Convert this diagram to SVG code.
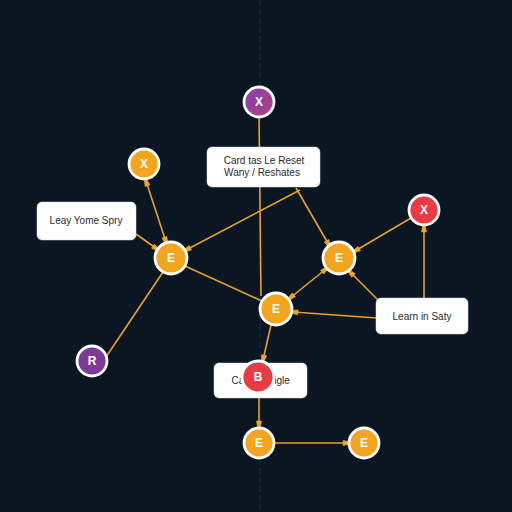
<svg xmlns="http://www.w3.org/2000/svg" width="512" height="512" viewBox="0 0 512 512">
<defs>
<marker id="ah" viewBox="0 0 10 10" refX="8" refY="5" markerWidth="7" markerHeight="7" orient="auto-start-reverse" markerUnits="userSpaceOnUse">
<path d="M1,1.5 L9,3 L9,7 L1,8.5 Z" fill="#f0a526" stroke="#f0a526" stroke-width="1" stroke-linejoin="round"/>
</marker>
<radialGradient id="pg" cx="0.35" cy="0.35" r="0.8">
<stop offset="0" stop-color="#8a3fa8"/>
<stop offset="1" stop-color="#b0407e"/>
</radialGradient>
<style>
.c{stroke:#e8a028;stroke-width:1.6;fill:none}
.n{stroke:#fff;stroke-width:2.8}
.o{fill:#f4a51f}
.r{fill:#e93b43}
.p{fill:#7d3a99}
.lt{font-family:"Liberation Sans",Arial,sans-serif;font-weight:bold;font-size:12px;fill:#fff;text-anchor:middle;dominant-baseline:central}
.bx{fill:#fff;stroke:#dde;stroke-width:0.5}
.bt{font-family:"Liberation Sans",Arial,sans-serif;font-size:10px;fill:#2a2a2a;text-anchor:middle}
</style>
</defs>
<rect width="512" height="512" fill="#0a1622"/>
<line x1="260" y1="0" x2="260" y2="512" stroke="#1e2e3e" stroke-width="1" stroke-dasharray="6 3"/>
<g id="connectors">
<line class="c" x1="259" y1="117" x2="261" y2="296"/>
<line class="c" x1="300" y1="190" x2="186" y2="250" marker-end="url(#ah)"/>
<line class="c" x1="296" y1="188" x2="329" y2="245" marker-end="url(#ah)"/>
<line class="c" x1="146" y1="181" x2="166" y2="242" marker-start="url(#ah)" marker-end="url(#ah)"/>
<line class="c" x1="136" y1="234" x2="157" y2="249" marker-end="url(#ah)"/>
<line class="c" x1="185" y1="266" x2="262" y2="301"/>
<line class="c" x1="163" y1="272" x2="106" y2="357"/>
<line class="c" x1="411" y1="218" x2="355" y2="251" marker-end="url(#ah)"/>
<line class="c" x1="424" y1="298" x2="424" y2="227" marker-end="url(#ah)"/>
<line class="c" x1="379" y1="301" x2="350" y2="272" marker-end="url(#ah)"/>
<line class="c" x1="377" y1="318" x2="293" y2="312" marker-end="url(#ah)"/>
<line class="c" x1="290" y1="298" x2="326" y2="269" marker-start="url(#ah)" marker-end="url(#ah)"/>
<line class="c" x1="271" y1="325" x2="263" y2="360" marker-end="url(#ah)"/>
<line class="c" x1="259" y1="398" x2="259" y2="426" marker-end="url(#ah)"/>
<line class="c" x1="275" y1="443" x2="348" y2="443" marker-end="url(#ah)"/>
</g>
<g id="box-card">
<rect class="bx" x="207" y="147" width="113" height="40" rx="5"/>
<text class="bt" x="264" y="164">Card tas Le Reset</text>
<text class="bt" x="262" y="176">Wany / Reshates</text>
</g>
<g id="box-leay">
<rect class="bx" x="37" y="202" width="99" height="38" rx="5"/>
<text class="bt" x="86" y="224">Leay Yome Spry</text>
</g>
<g id="box-learn">
<rect class="bx" x="376" y="298" width="92" height="36" rx="5"/>
<text class="bt" x="422" y="320">Learn in Saty</text>
</g>
<g id="box-cangle">
<rect class="bx" x="214" y="363" width="93" height="35" rx="5"/>
<text class="bt" x="238" y="384">Ca</text>
<text class="bt" x="282" y="384">igle</text>
</g>
<g id="n-x-top"><circle class="n" cx="259" cy="102" r="15" fill="url(#pg)"/><text class="lt" x="259" y="102">X</text></g>
<g id="n-x-left"><circle class="n o" cx="144" cy="164" r="15"/><text class="lt" x="144" y="164">X</text></g>
<g id="n-x-right"><circle class="n r" cx="424" cy="210" r="15"/><text class="lt" x="424" y="210">X</text></g>
<g id="n-e1"><circle class="n o" cx="171" cy="258" r="16"/><text class="lt" x="171" y="258">E</text></g>
<g id="n-e2"><circle class="n o" cx="339" cy="258" r="16"/><text class="lt" x="339" y="258">E</text></g>
<g id="n-e3"><circle class="n o" cx="276" cy="309" r="16"/><text class="lt" x="276" y="309">E</text></g>
<g id="n-r"><circle class="n p" cx="92" cy="361" r="15"/><text class="lt" x="92" y="361">R</text></g>
<g id="n-b"><circle class="n r" cx="258" cy="377" r="16"/><text class="lt" x="258" y="377">B</text></g>
<g id="n-e4"><circle class="n o" cx="259" cy="443" r="15"/><text class="lt" x="259" y="443">E</text></g>
<g id="n-e5"><circle class="n o" cx="364" cy="443" r="15"/><text class="lt" x="364" y="443">E</text></g>
</svg>
